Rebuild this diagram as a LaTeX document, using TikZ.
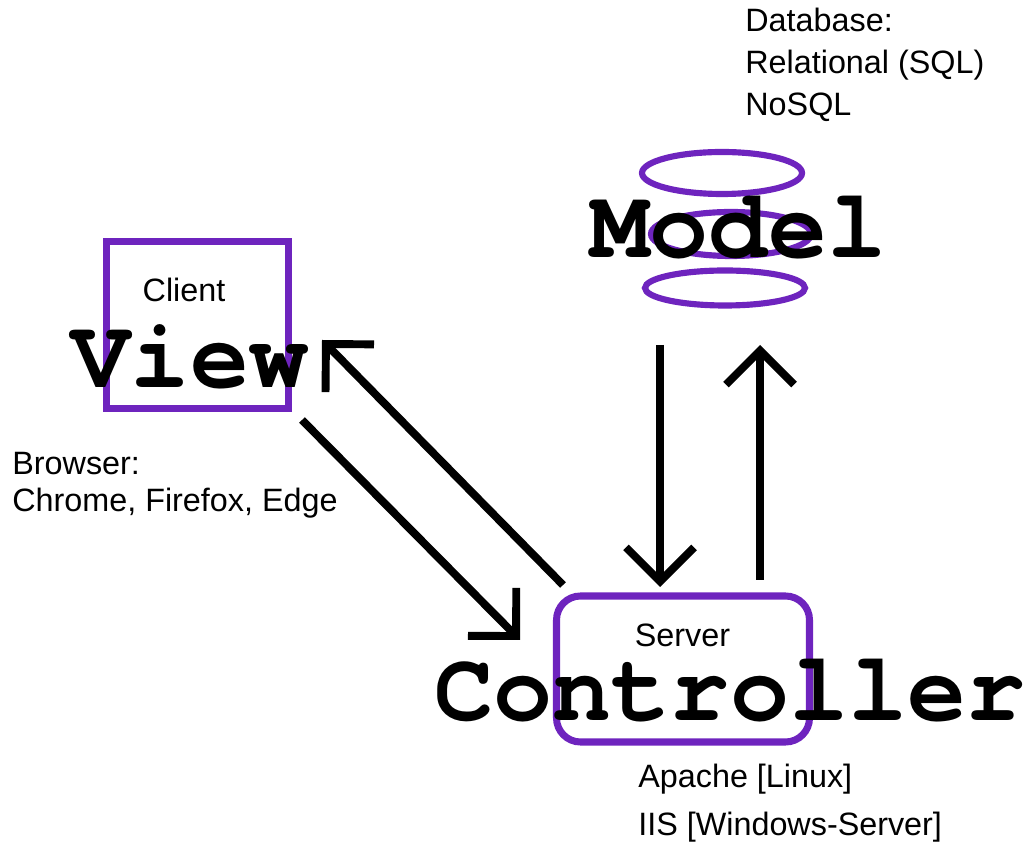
\documentclass[tikz,border=0pt]{standalone}
\usepackage{fontspec}
\setmainfont{Liberation Sans}
\newfontfamily\codefont{texgyrecursor}[Extension=.otf, UprightFont=*-regular, BoldFont=*-bold]
\usetikzlibrary{arrows.meta, shapes.geometric}
\definecolor{mvcpurple}{HTML}{6E24BE}

\begin{document}
\begin{tikzpicture}[
	box/.style={draw=mvcpurple, line width=4pt, inner sep=0pt},
	disk/.style={draw=mvcpurple, line width=3.5pt, ellipse, inner sep=0pt, minimum width=3.2cm},
	bigword/.style={font=\codefont\bfseries\fontsize{56}{60}\selectfont, inner sep=0pt, anchor=base},
	small/.style={font=\fontsize{18.4}{20}\selectfont, inner sep=0pt, anchor=base},
	note/.style={inner sep=0pt, align=left, anchor=base west},
	flow/.style={line width=4.5pt, line join=miter, -{Straight Barb[length=0.68cm, width=1.36cm]}}
	]
	
	\useasboundingbox (0,0) rectangle (20.56,16.86);
	
	% client
	\node[box, minimum width=3.64cm, minimum height=3.34cm] (viewbox) at (3.95,10.36) {};
	\node[small] (client) at (3.68,10.82) {Client};
	\node[bigword] (view) at (3.8,9.1) {View};
	\node[note, font=\fontsize{18.4}{21.6}\selectfont] (browser) at (0.24,6.62) {Browser:\\Chrome, Firefox, Edge};
	
	% database
	\node[disk, minimum height=0.84cm] (db1) at (14.44,13.4) {};
	\node[disk, minimum height=0.88cm] (db2) at (14.62,12.18) {};
	\node[disk, minimum height=0.7cm] (db3) at (14.5,11.1) {};
	\node[bigword] (model) at (14.77,11.7) {Model};
	\node[note, font=\fontsize{18.4}{24}\selectfont] (dbinfo) at (14.9,14.54) {Database:\\Relational (SQL)\\NoSQL};
	
	% server
	\node[box, rounded corners=0.48cm, minimum width=5.06cm, minimum height=2.92cm] (serverbox) at (13.66,3.48) {};
	\node[small] (server) at (13.65,3.92) {Server};
	\node[bigword] (controller) at (14.6,2.46) {Controller};
	\node[note, font=\fontsize{18.4}{27}\selectfont] (serverinfo) at (12.76,0.16) {Apache [Linux]\\IIS [Windows-Server]};
	
	\coordinate (m1) at (13.2,9.96);
	\coordinate (c1) at (13.2,5.12);
	\coordinate (c2) at (15.2,5.26);
	\coordinate (m2) at (15.2,9.96);
	\coordinate (c3) at (11.26,5.16);
	\coordinate (v1) at (6.44,10.06);
	\coordinate (v2) at (6.04,8.46);
	\coordinate (c4) at (10.4,4.06);
	
	\draw[flow] (m1) -- (c1);
	\draw[flow] (c2) -- (m2);
	\draw[flow] (c3) -- (v1);
	\draw[flow] (v2) -- (c4);
	
\end{tikzpicture}
\end{document}
